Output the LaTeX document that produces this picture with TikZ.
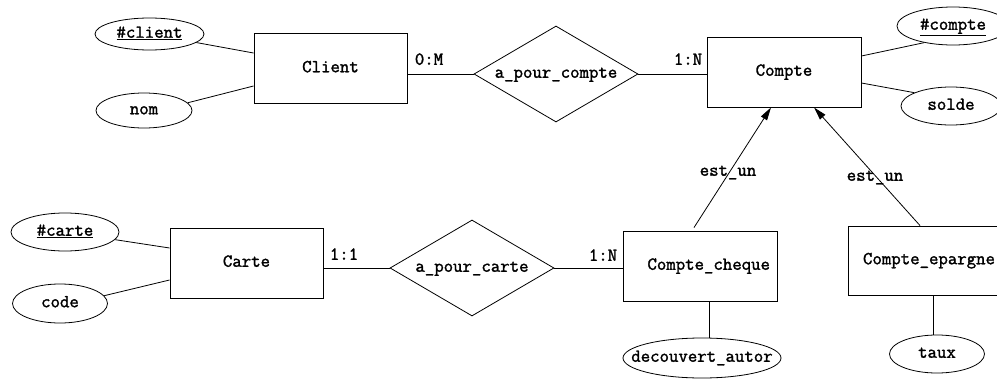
\documentclass[tikz,border=0pt]{standalone}
\usepackage{fontspec}
\newfontfamily\ermono{Latin Modern Mono}[FakeBold=1.6]
\usetikzlibrary{shapes.geometric,arrows.meta}
\tikzset{
  base/.style={font=\ermono\fontsize{18.3}{20}\selectfont, text height=10pt, text depth=2.5pt},
  ent/.style={base, draw, line width=0.9pt, rectangle, inner sep=0pt, minimum width=#1, minimum height=70pt},
  ent/.default=153pt,
  attr/.style n args={2}{base, draw, line width=0.8pt, ellipse, inner sep=0pt, minimum width=#1, minimum height=#2},
  rel/.style={base, draw, line width=0.8pt, diamond, inner sep=0pt, minimum width=164pt, minimum height=96pt},
  card/.style={base, inner sep=0pt},
  conn/.style={line width=0.8pt},
  isa/.style={line width=0.8pt, -{Triangle[length=13pt,width=7pt]}}
}
\newcommand{\zb}[1]{\makebox[0pt]{#1}}
\begin{document}
\begin{tikzpicture}[x=1pt,y=-1pt]
\useasboundingbox (0,0) rectangle (997,380);
\clip (0,0) rectangle (997,380);
\fill[white] (0,0) rectangle (997,380);
% entities
\node[ent] (client) at (330.5,68.5) {Client};
\node[ent=154pt] (compte) at (784,72) {Compte};
\node[ent] (carte) at (246.5,263) {Carte};
\node[ent=154pt, text width=140pt, align=right] (cheque) at (700,266) {Compte\_cheque};
\node[ent=154pt, minimum height=69pt, text width=140pt, align=right] (epargne) at (925,260.5) {Compte\_epargne};
% relationships
\node[rel] (apc) at (556,74) {\zb{a\_pour\_compte}};
\node[rel] (apca) at (472,268) {\zb{a\_pour\_carte}};
% attributes
\node[attr={109pt}{32pt}] (clid) at (149.5,34) {\zb{\underline{\#client}}};
\node[attr={96pt}{35pt}] (nom) at (144,110.5) {\zb{nom}};
\node[attr={112pt}{38pt}] (cptid) at (953,26) {\zb{\underline{\#compte}}};
\node[attr={100pt}{38pt}] (solde) at (951,106) {\zb{solde}};
\node[attr={108pt}{38pt}] (carteid) at (65,232) {\zb{\underline{\#carte}}};
\node[attr={95pt}{39pt}] (code) at (60,303.5) {\zb{code}};
\node[attr={158pt}{40pt}] (dec) at (702,358) {\zb{decouvert\_autor}};
\node[attr={95pt}{38pt}] (taux) at (937,354) {\zb{taux}};
% attribute links
\draw[conn] (clid) -- ([yshift=15.5pt]client.west);
\draw[conn] (nom.10) -- ([yshift=-17.5pt]client.west);
\draw[conn] ([yshift=16pt]compte.east) -- (cptid.210);
\draw[conn] ([yshift=-11pt]compte.east) -- (solde.160);
\draw[conn] (carteid) -- ([yshift=15pt]carte.west);
\draw[conn] (code.10) -- ([yshift=-17pt]carte.west);
\draw[conn] ([xshift=9pt]cheque.south) -- ([xshift=7pt]dec.north);
\draw[conn] ([xshift=8pt]epargne.south) -- ([xshift=-4pt]taux.north);
% relationship links
\draw[conn] (client.east |- apc.west) -- (apc.west);
\draw[conn] (apc.east) -- (apc.east -| compte.west);
\draw[conn] (carte.east |- apca.west) -- (apca.west);
\draw[conn] (apca.east) -- (apca.east -| cheque.west);
% cardinalities
\node[card] (c1) at (429,61) {0:M};
\node[card] (c2) at (688,61) {1:N};
\node[card] (c3) at (344,256) {1:1};
\node[card] (c4) at (603,257) {1:N};
% inheritance
\draw[isa] ([xshift=-6pt,yshift=3pt]cheque.north) -- ([xshift=-13pt]compte.south);
\draw[isa] ([xshift=-5pt]epargne.north) -- ([xshift=30pt]compte.south);
\node[card] (isa1) at (728,172) {est\_un};
\node[card] (isa2) at (875,177) {est\_un};
\end{tikzpicture}
\end{document}
